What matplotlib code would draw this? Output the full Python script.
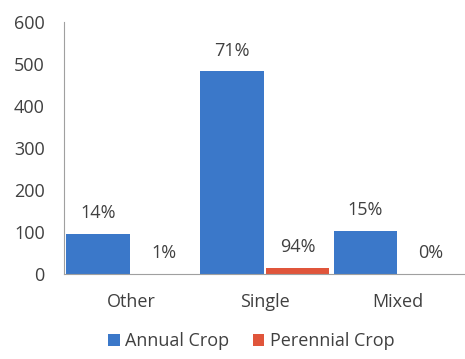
import matplotlib.pyplot as plt
import numpy as np

plt.rcParams['font.family'] = ['Open Sans', 'DejaVu Sans']

categories = ['Other', 'Single', 'Mixed']
annual = [95, 482, 102]
perennial = [0.2, 14, 0]
annual_pct = ['14%', '71%', '15%']
perennial_pct = ['1%', '94%', '0%']

blue = '#3b78c9'
red = '#e0553b'
text_col = '#404040'

fig = plt.figure(figsize=(4.65, 3.59), dpi=100)
ax = fig.add_axes([0.138, 0.237, 0.862, 0.702])

x = np.arange(len(categories))
w = 0.475
b1 = ax.bar(x - w / 2 - 0.008, annual, w, color=blue, label='Annual Crop')
b2 = ax.bar(x + w / 2 + 0.008, perennial, w, color=red, label='Perennial Crop')

for bars, labels in [(b1, annual_pct), (b2, perennial_pct)]:
    for bar, lab in zip(bars, labels):
        ax.annotate(lab, (bar.get_x() + bar.get_width() / 2, bar.get_height()),
                    xytext=(0, 15), textcoords='offset points',
                    ha='center', va='center', fontsize=13, color=text_col)

ax.set_xlim(-0.5, 2.5)
ax.set_ylim(0, 600)
ax.set_yticks(range(0, 601, 100))
ax.set_xticks(x)
ax.set_xticklabels(categories)
ax.tick_params(length=0, labelsize=13, colors=text_col)
ax.tick_params(axis='y', pad=14)
ax.tick_params(axis='x', pad=14)
for s in ['top', 'right']:
    ax.spines[s].set_visible(False)
ax.spines['left'].set_color('#a0a0a0')
ax.spines['bottom'].set_color('#a0a0a0')

fig.legend(handles=[b1, b2], loc='center', bbox_to_anchor=(0.54, 0.05), ncol=2,
           frameon=False, fontsize=13, handlelength=0.65, handleheight=0.65,
           handletextpad=0.3, columnspacing=1.3, labelcolor=text_col)

fig.savefig('out.png', dpi=100)
